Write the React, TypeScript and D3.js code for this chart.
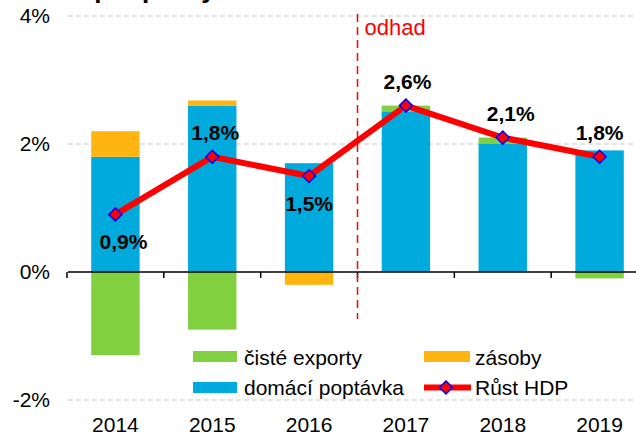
import React from "react";
import * as d3 from "d3";

const years = ["2014", "2015", "2016", "2017", "2018", "2019"];
const domaciPoptavka = [1.8, 2.6, 1.7, 2.5, 2.0, 1.9];
const zasoby = [0.4, 0.08, -0.2, 0, 0, 0];
const cisteExporty = [-1.3, -0.9, 0, 0.1, 0.1, -0.1];
const rustHDP = [0.9, 1.8, 1.5, 2.6, 2.1, 1.8];
const yTicks = [-2, 0, 2, 4];
const gridTicks = [-2, 2, 4];
const labelPlacement = ["below", "above", "below", "above", "above", "above"];
const labelShift = [8, 3, 0, 1.5, 8, 0];

const seriesKeys = ["domaci", "exporty", "zasoby"];
const seriesColors: Record<string, string> = {
  domaci: "#00AADC",
  exporty: "#80D040",
  zasoby: "#FFB50F",
};

const W = 636;
const H = 434;
const FONT = "'Liberation Sans', Arial, sans-serif";

export default function App() {
  const x = d3
    .scaleBand<string>()
    .domain(years)
    .range([67, 648])
    .paddingInner(0.5)
    .paddingOuter(0.25);
  const y = d3.scaleLinear().domain([-2, 4]).range([400, 16]);

  const table = years.map((yr, i) => ({
    year: yr,
    domaci: domaciPoptavka[i],
    exporty: cisteExporty[i],
    zasoby: zasoby[i],
  }));
  const stack = d3
    .stack<any>()
    .keys(seriesKeys)
    .offset(d3.stackOffsetDiverging);
  const stacked = stack(table);

  const cx = (i: number) => (x(years[i]) as number) + x.bandwidth() / 2;
  const line = d3
    .line<number>()
    .x((_, i) => cx(i))
    .y((d) => y(d));

  const step = x.step();
  const boundaries = d3.range(years.length + 1).map(
    (i) => (x(years[0]) as number) - (step - x.bandwidth()) / 2 + i * step
  );
  const odhadX = (cx(2) + cx(3)) / 2;

  const diamond = (px: number, py: number, r: number) =>
    `M${px},${py - r}L${px + r},${py}L${px},${py + r}L${px - r},${py}Z`;

  const fmt = (v: number) => v.toFixed(1).replace(".", ",") + "%";

  return (
    <svg
      width={W}
      height={H}
      style={{ position: "absolute", left: 0, top: 0, background: "#fff" }}
      fontFamily={FONT}
    >
      <text x={-54} y={-2.5} fontSize={26} fontWeight="bold" fill="#000">
        Růst HDP a příspěvky složek
      </text>

      {gridTicks.map((t) => (
        <line
          key={"g" + t}
          x1={68}
          x2={W}
          y1={y(t)}
          y2={y(t)}
          stroke="#C8C8C8"
          strokeWidth={1}
          strokeDasharray="5,3"
        />
      ))}

      {yTicks.map((t) => (
        <text
          key={"yt" + t}
          x={50}
          y={y(t)}
          dy="0.35em"
          textAnchor="end"
          fontSize={21}
          fill="#000"
        >
          {t + "%"}
        </text>
      ))}

      {stacked.map((s) =>
        s.map((d, i) => {
          const v0 = Math.min(d[0], d[1]);
          const v1 = Math.max(d[0], d[1]);
          if (v1 - v0 <= 0) return null;
          return (
            <rect
              key={s.key + i}
              x={x(years[i])}
              width={x.bandwidth()}
              y={y(v1)}
              height={y(v0) - y(v1)}
              fill={seriesColors[s.key]}
            />
          );
        })
      )}

      <line x1={68} x2={W} y1={y(0)} y2={y(0)} stroke="#000" strokeWidth={1.5} />
      {boundaries.map((bx, i) => (
        <line
          key={"tk" + i}
          x1={bx}
          x2={bx}
          y1={y(0)}
          y2={y(0) + 6}
          stroke="#000"
          strokeWidth={1.5}
        />
      ))}

      <line
        x1={odhadX}
        x2={odhadX}
        y1={14}
        y2={319}
        stroke="#FF0000"
        strokeWidth={1.5}
        strokeDasharray="8,5"
      />
      <text x={odhadX + 7} y={35} fontSize={22} fill="#FF0000">
        odhad
      </text>

      <path
        d={line(rustHDP) || ""}
        fill="none"
        stroke="#FF0000"
        strokeWidth={6}
        strokeLinejoin="round"
      />
      {rustHDP.map((v, i) => (
        <path
          key={"m" + i}
          d={diamond(cx(i), y(v), 6.5)}
          fill="#FF0000"
          stroke="#0000FF"
          strokeWidth={1.5}
        />
      ))}
      {rustHDP.map((v, i) => (
        <text
          key={"l" + i}
          x={cx(i) + labelShift[i]}
          y={labelPlacement[i] === "above" ? y(v) - 17 : y(v) + 35}
          textAnchor="middle"
          fontSize={21}
          fontWeight="bold"
          fill="#000"
        >
          {fmt(v)}
        </text>
      ))}

      {years.map((yr, i) => (
        <text
          key={"xl" + yr}
          x={cx(i)}
          y={432}
          textAnchor="middle"
          fontSize={21}
          fill="#000"
        >
          {yr}
        </text>
      ))}

      {/* legend */}
      <g fontSize={21} fill="#000">
        <rect x={193} y={351} width={44} height={11} fill={seriesColors.exporty} />
        <text x={244} y={365}>čisté exporty</text>
        <rect x={424} y={351} width={46} height={11} fill={seriesColors.zasoby} />
        <text x={475} y={365}>zásoby</text>
        <rect x={193} y={382} width={44} height={11} fill={seriesColors.domaci} />
        <text x={244} y={395}>domácí poptávka</text>
        <line x1={424} x2={471} y1={387.5} y2={387.5} stroke="#FF0000" strokeWidth={6} />
        <path d={diamond(446, 387.5, 6.5)} fill="#FF0000" stroke="#0000FF" strokeWidth={1.5} />
        <text x={475} y={395}>Růst HDP</text>
      </g>
    </svg>
  );
}
